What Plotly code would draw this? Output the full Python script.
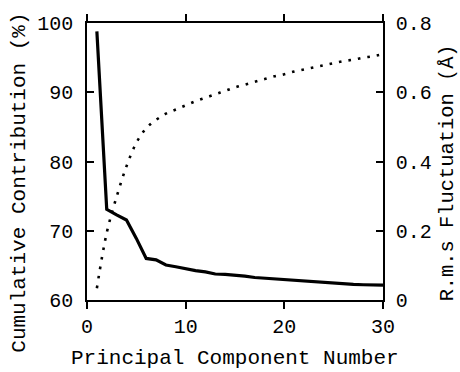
import plotly.graph_objects as go

pc = list(range(1, 31))
cumulative = [61.7, 69.7, 74.9, 79.3, 82.7, 84.8, 86.0, 86.9, 87.5, 88.1,
              88.7, 89.2, 89.7, 90.2, 90.7, 91.1, 91.5, 91.9, 92.3, 92.6,
              93.0, 93.3, 93.6, 93.9, 94.2, 94.5, 94.7, 95.0, 95.2, 95.5]
rms = [0.776, 0.262, 0.246, 0.231, 0.178, 0.120, 0.116, 0.101, 0.096, 0.090,
       0.085, 0.081, 0.075, 0.074, 0.072, 0.069, 0.065, 0.063, 0.060, 0.058,
       0.056, 0.053, 0.052, 0.050, 0.048, 0.047, 0.045, 0.044, 0.044, 0.043]

x_ticks = [0, 10, 20, 30]
left_ticks = [60, 70, 80, 90, 100]
right_ticks = [0, 0.2, 0.4, 0.6, 0.8]
right_labels = ["0", "0.2", "0.4", "0.6", "0.8"]

FONT = "Liberation Mono, Courier New, monospace"

fig = go.Figure()
fig.add_trace(go.Scatter(x=pc, y=cumulative, mode="lines", yaxis="y",
                         line=dict(color="black", width=2.6, dash="2.6px,7px", shape="spline"),
                         showlegend=False))
fig.add_trace(go.Scatter(x=pc, y=rms, mode="lines", yaxis="y2",
                         line=dict(color="black", width=3.2),
                         showlegend=False))

axis_common = dict(showgrid=False, zeroline=False, showline=True, linecolor="black",
                   linewidth=1.6, tickcolor="black", tickwidth=1.6, ticklen=7,
                   tickfont=dict(family=FONT, size=20, color="black"))

fig.update_layout(
    width=460, height=372,
    margin=dict(l=87, r=77, t=23, b=72),
    paper_bgcolor="white", plot_bgcolor="white",
    xaxis=dict(range=[0, 30], tickvals=x_ticks, ticks="outside", mirror="ticks",
               ticklabelstandoff=0, **axis_common),
    yaxis=dict(range=[60, 100], tickvals=left_ticks, ticks="inside",
               ticklabelstandoff=8, **axis_common),
    yaxis2=dict(range=[0, 0.8], tickvals=right_ticks, ticktext=right_labels,
                ticks="inside", overlaying="y", side="right",
                ticklabelstandoff=7, **axis_common),
    annotations=[
        dict(text="Principal Component Number", xref="paper", yref="paper",
             x=0.5, y=-0.212, xanchor="center", yanchor="middle", showarrow=False,
             font=dict(family=FONT, size=21, color="black")),
        dict(text="Cumulative Contribution (%)", xref="paper", yref="paper",
             x=-0.228, y=0.4217, xanchor="center", yanchor="middle", showarrow=False,
             textangle=-90, font=dict(family=FONT, size=21, color="black")),
        dict(text="R.m.s Fluctuation (Å)", xref="paper", yref="paper",
             x=1.217, y=0.458, xanchor="center", yanchor="middle", showarrow=False,
             textangle=-90, font=dict(family=FONT, size=20.4, color="black")),
    ],
)

fig.write_html("out.html")
